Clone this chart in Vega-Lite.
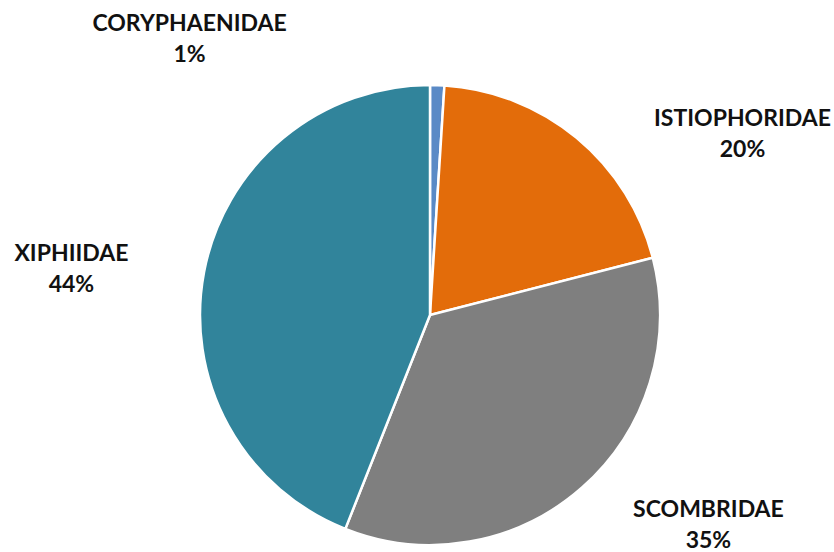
{
  "$schema": "https://vega.github.io/schema/vega-lite/v6.json",
  "width": 780,
  "height": 474,
  "autosize": {"type": "none"},
  "padding": {"left": 40, "top": 78, "right": 14, "bottom": 0},
  "background": "white",
  "config": {"view": {"stroke": null}},
  "data": {
    "values": [
      {"family": "CORYPHAENIDAE", "value": 1},
      {"family": "ISTIOPHORIDAE", "value": 20},
      {"family": "SCOMBRIDAE", "value": 35},
      {"family": "XIPHIIDAE", "value": 44}
    ]
  },
  "transform": [
    {"calculate": "datum.family + '\\n' + datum.value + '%'", "as": "label"}
  ],
  "encoding": {
    "theta": {"field": "value", "type": "quantitative", "stack": true},
    "order": {"field": "family", "sort": "ascending"}
  },
  "layer": [
    {
      "mark": {"type": "arc", "outerRadius": 230, "stroke": "white", "strokeWidth": 2.5},
      "encoding": {
        "color": {
          "field": "family",
          "type": "nominal",
          "legend": null,
          "scale": {
            "domain": ["CORYPHAENIDAE", "ISTIOPHORIDAE", "SCOMBRIDAE", "XIPHIIDAE"],
            "range": ["#5A8AC6", "#E36C0A", "#7F7F7F", "#31849B"]
          }
        }
      }
    },
    {
      "mark": {"type": "text", "radius": 377.5, "thetaOffset": -0.722, "font": "Lato", "fontWeight": "bold", "fontSize": 23, "lineBreak": "\n", "lineHeight": 31, "align": "center", "baseline": "middle", "color": "#111111"},
      "encoding": {"text": {"condition": {"test": "datum.family === 'CORYPHAENIDAE'", "field": "label"}, "value": ""}}
    },
    {
      "mark": {"type": "text", "radius": 369, "thetaOffset": 0.319, "font": "Lato", "fontWeight": "bold", "fontSize": 23, "lineBreak": "\n", "lineHeight": 31, "align": "center", "baseline": "middle", "color": "#111111"},
      "encoding": {"text": {"condition": {"test": "datum.family === 'ISTIOPHORIDAE'", "field": "label"}, "value": ""}}
    },
    {
      "mark": {"type": "text", "radius": 340, "thetaOffset": -0.237, "font": "Lato", "fontWeight": "bold", "fontSize": 23, "lineBreak": "\n", "lineHeight": 31, "align": "center", "baseline": "middle", "color": "#111111"},
      "encoding": {"text": {"condition": {"test": "datum.family === 'SCOMBRIDAE'", "field": "label"}, "value": ""}}
    },
    {
      "mark": {"type": "text", "radius": 363.7, "thetaOffset": -0.02, "font": "Lato", "fontWeight": "bold", "fontSize": 23, "lineBreak": "\n", "lineHeight": 31, "align": "center", "baseline": "middle", "color": "#111111"},
      "encoding": {"text": {"condition": {"test": "datum.family === 'XIPHIIDAE'", "field": "label"}, "value": ""}}
    }
  ]
}
